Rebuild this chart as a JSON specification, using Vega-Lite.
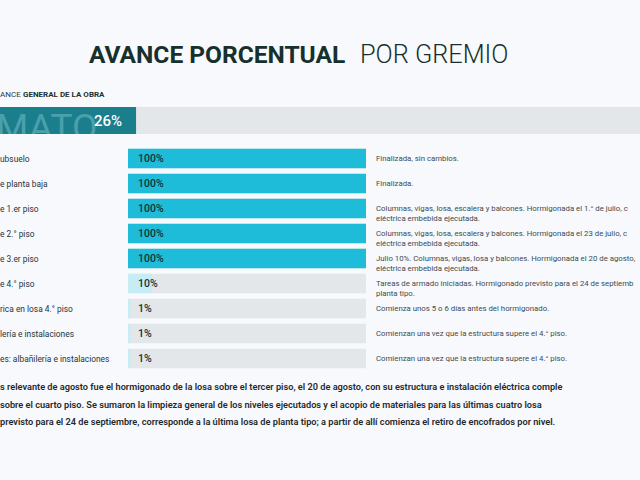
{
  "$schema": "https://vega.github.io/schema/vega-lite/v6.json",
  "background": "#f8f9fc",
  "padding": 0,
  "spacing": 0,
  "config": {"view": {"stroke": null}, "font": "Roboto", "concat": {"spacing": 0}},
  "datasets": {
    "titulo": [{"a": "AVANCE PORCENTUAL", "b": "POR GREMIO", "c": "ANCE", "d": "GENERAL DE LA OBRA"}],
    "general": [{"rubro": "MATO", "avance": 0.26}],
    "tareas": [
      {"orden": 1, "tarea": "ubsuelo", "avance": 1.0, "estado": "Finalizada", "nota": "Finalizada, sin cambios."},
      {"orden": 2, "tarea": "e planta baja", "avance": 1.0, "estado": "Finalizada", "nota": "Finalizada."},
      {"orden": 3, "tarea": "e 1.er piso", "avance": 1.0, "estado": "Finalizada", "nota": "Columnas, vigas, losa, escalera y balcones. Hormigonada el 1.° de julio, c\neléctrica embebida ejecutada."},
      {"orden": 4, "tarea": "e 2.° piso", "avance": 1.0, "estado": "Finalizada", "nota": "Columnas, vigas, losa, escalera y balcones. Hormigonada el 23 de julio, c\neléctrica embebida ejecutada."},
      {"orden": 5, "tarea": "e 3.er piso", "avance": 1.0, "estado": "Finalizada", "nota": "Julio 10%. Columnas, vigas, losa y balcones. Hormigonada el 20 de agosto, c\neléctrica embebida ejecutada."},
      {"orden": 6, "tarea": "e 4.° piso", "avance": 0.10, "estado": "En curso", "nota": "Tareas de armado iniciadas. Hormigonado previsto para el 24 de septiemb\nplanta tipo."},
      {"orden": 7, "tarea": "rica en losa 4.° piso", "avance": 0.01, "estado": "En curso", "nota": "Comienza unos 5 o 6 días antes del hormigonado."},
      {"orden": 8, "tarea": "lería e instalaciones", "avance": 0.01, "estado": "En curso", "nota": "Comienzan una vez que la estructura supere el 4.° piso."},
      {"orden": 9, "tarea": "es: albañilería e instalaciones", "avance": 0.01, "estado": "En curso", "nota": "Comienzan una vez que la estructura supere el 4.° piso."}
    ],
    "resumen": [{"texto": "s relevante de agosto fue el hormigonado de la losa sobre el tercer piso, el 20 de agosto, con su estructura e instalación eléctrica comple\n sobre el cuarto piso. Se sumaron la limpieza general de los niveles ejecutados y el acopio de materiales para las últimas cuatro losa\n previsto para el 24 de septiembre, corresponde a la última losa de planta tipo; a partir de allí comienza el retiro de encofrados por nivel."}]
  },
  "vconcat": [
    {
      "width": 640,
      "height": 107,
      "data": {"name": "titulo"},
      "layer": [
        {"mark": {"type": "text", "fontSize": 24.5, "fontWeight": 700, "color": "#16302d", "align": "left", "baseline": "alphabetic"},
         "encoding": {"text": {"field": "a"}, "x": {"value": 89}, "y": {"value": 63}}},
        {"mark": {"type": "text", "fontSize": 25.3, "fontWeight": 300, "color": "#16302d", "align": "left", "baseline": "alphabetic"},
         "encoding": {"text": {"field": "b"}, "x": {"value": 360}, "y": {"value": 63}}},
        {"mark": {"type": "text", "fontSize": 8, "fontWeight": 400, "color": "#2b3a3e", "align": "left", "baseline": "alphabetic"},
         "encoding": {"text": {"field": "c"}, "x": {"value": 0}, "y": {"value": 97}}},
        {"mark": {"type": "text", "fontSize": 8, "fontWeight": 700, "color": "#22302f", "align": "left", "baseline": "alphabetic"},
         "encoding": {"text": {"field": "d"}, "x": {"value": 23}, "y": {"value": 97}}}
      ]
    },
    {
      "width": 640,
      "height": 27,
      "data": {"name": "general"},
      "layer": [
        {"mark": {"type": "rect", "color": "#e3e7e9", "clip": true},
         "encoding": {"x": {"datum": 1, "type": "quantitative", "scale": {"domain": [0, 1], "range": [-41, 640]}, "axis": null}, "x2": {"datum": 0}}},
        {"mark": {"type": "rect", "color": "#1b7e8c", "clip": true},
         "encoding": {"x": {"field": "avance", "type": "quantitative"}, "x2": {"datum": 0}}},
        {"mark": {"type": "text", "fontSize": 37, "fontWeight": 400, "color": "#4aa0ab", "align": "left", "baseline": "alphabetic", "clip": true},
         "encoding": {"text": {"field": "rubro"}, "x": {"value": -4}, "y": {"value": 33}}},
        {"mark": {"type": "text", "fontSize": 15, "fontWeight": 500, "color": "#ffffff", "align": "right", "baseline": "middle", "dx": -14},
         "encoding": {"text": {"field": "avance", "format": ".0%"}, "x": {"field": "avance", "type": "quantitative"}, "y": {"value": 13.5}}}
      ]
    },
    {
      "width": 640,
      "height": 249,
      "data": {"name": "tareas"},
      "encoding": {
        "y": {"field": "orden", "type": "ordinal", "scale": {"paddingInner": 0.22, "paddingOuter": 0.59}, "axis": null}
      },
      "layer": [
        {"mark": {"type": "bar", "color": "#e3e7e9"},
         "encoding": {"x": {"datum": 1, "type": "quantitative", "scale": {"domain": [0, 1], "range": [128, 366]}, "axis": null}, "x2": {"datum": 0}}},
        {"mark": {"type": "bar"},
         "encoding": {"x": {"field": "avance", "type": "quantitative"}, "x2": {"datum": 0},
           "color": {"field": "estado", "type": "nominal", "scale": {"domain": ["Finalizada", "En curso"], "range": ["#1ebcd9", "#c6edf5"]}, "legend": null}}},
        {"mark": {"type": "text", "fontSize": 10.5, "fontWeight": 500, "color": "#173035", "align": "left", "baseline": "middle", "dx": 10},
         "encoding": {"text": {"field": "avance", "format": ".0%"}, "x": {"datum": 0}}},
        {"mark": {"type": "text", "fontSize": 8.4, "color": "#26343a", "align": "left", "baseline": "middle"},
         "encoding": {"text": {"field": "tarea"}, "x": {"value": 0}}},
        {"mark": {"type": "text", "fontSize": 7.8, "color": "#3d4a50", "align": "left", "baseline": "middle", "lineBreak": "\n", "lineHeight": 10, "dx": 10, "limit": 264, "ellipsis": "\u200b"},
         "encoding": {"text": {"field": "nota"}, "x": {"datum": 1}}}
      ]
    },
    {
      "width": 640,
      "height": 97,
      "data": {"name": "resumen"},
      "mark": {"type": "text", "fontSize": 9.2, "fontWeight": 600, "color": "#1f2a2e", "align": "left", "baseline": "alphabetic", "lineBreak": "\n", "lineHeight": 17.5, "limit": 640, "ellipsis": "\u200b"},
      "encoding": {"text": {"field": "texto"}, "x": {"value": 0}, "y": {"value": 6}}
    }
  ]
}
